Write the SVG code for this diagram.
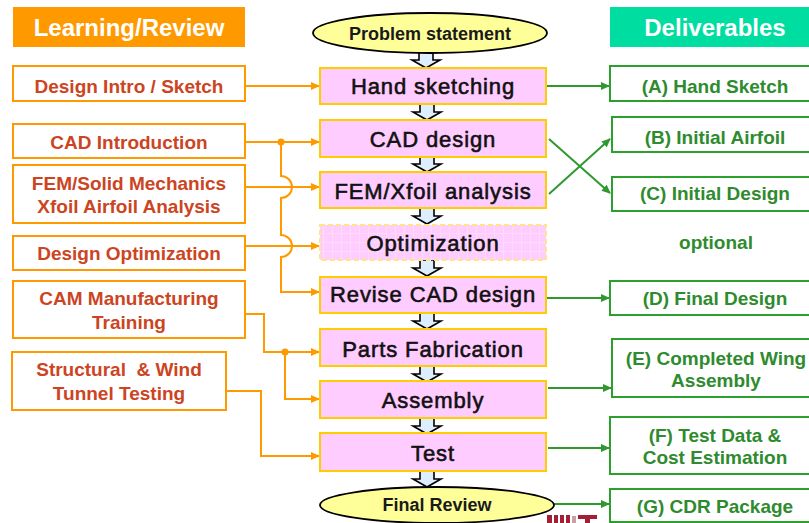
<svg xmlns="http://www.w3.org/2000/svg" width="809" height="523" viewBox="0 0 809 523">
  <defs>
    <marker id="arrOrange" markerUnits="userSpaceOnUse" markerWidth="9" markerHeight="8" refX="8" refY="4" orient="auto">
      <path d="M0,0 L9,4 L0,8 z" fill="#FF9900"/>
    </marker>
    <marker id="arrGreen" markerUnits="userSpaceOnUse" markerWidth="9" markerHeight="8" refX="8" refY="4" orient="auto">
      <path d="M0,0 L9,4 L0,8 z" fill="#2E9A2E"/>
    </marker>
    <pattern id="optGrid" patternUnits="userSpaceOnUse" width="9" height="9">
      <rect width="9" height="9" fill="#FFCCFF"/>
      <path d="M8.5,0 V9 M0,8.5 H9" stroke="#FFDAFF" stroke-width="1"/>
    </pattern>
    <!-- block arrow pointing down, 16 tall, centred on x=0 -->
    <path id="blockArrow" d="M-7,0 H7 V8 H14 L0,16 L-14,8 H-7 Z" fill="#DDEEFF" stroke="#000" stroke-width="1.6" stroke-linejoin="miter"/>
  </defs>
  <style>
    .hdr { font-family: "Liberation Sans", Arial, sans-serif; font-weight: bold; font-size: 24px; fill: #fff; text-anchor: middle; }
    .lbox { fill: #fff; stroke: #FF9900; stroke-width: 2; }
    .ltxt { font-family: "Liberation Sans", Arial, sans-serif; font-weight: bold; font-size: 19px; fill: #CC4422; text-anchor: middle; }
    .cbox { fill: #FFCCFF; stroke: #FFCC00; stroke-width: 2; }
    .ctxt { font-family: "Liberation Sans", Arial, sans-serif; font-size: 22px; letter-spacing: 0.9px; fill: #111; text-anchor: middle; stroke: #111; stroke-width: 0.6px; }
    .oval { fill: #FFFF99; stroke: #000; stroke-width: 1.8; }
    .otxt { font-family: "Liberation Sans", Arial, sans-serif; font-weight: bold; font-size: 18px; fill: #1a1a1a; text-anchor: middle; }
    .rbox { fill: #fff; stroke: #2CA02C; stroke-width: 2; }
    .rtxt { font-family: "Liberation Sans", Arial, sans-serif; font-weight: bold; font-size: 19px; fill: #2E8B2E; text-anchor: middle; }
    .oline { fill: none; stroke: #FF9900; stroke-width: 2; }
    .gline { fill: none; stroke: #2E9A2E; stroke-width: 2; }
  </style>

  <rect width="809" height="523" fill="#fff"/>

  <!-- column headers -->
  <g id="hdr-learning">
    <rect x="13" y="7" width="232" height="40" fill="#FF9900"/>
    <text class="hdr" x="129" y="36">Learning/Review</text>
  </g>
  <g id="hdr-deliverables">
    <rect x="610" y="7" width="210" height="40" fill="#00DDA0"/>
    <text class="hdr" x="715" y="36">Deliverables</text>
  </g>

  <!-- connectors -->
  <g id="connectors">
    <!-- learning inputs (orange) -->
    <path class="oline" d="M245,86 H319" marker-end="url(#arrOrange)"/>
    <path class="oline" d="M245,142 H319" marker-end="url(#arrOrange)"/>
    <path class="oline" d="M245,187 H319" marker-end="url(#arrOrange)"/>
    <path class="oline" d="M245,246 H319" marker-end="url(#arrOrange)" stroke="#FFA540"/>
    <path class="oline" d="M281,142 V176 A11,11 0 0 1 281,198 V235 A11,11 0 0 1 281,257 V292 H319" marker-end="url(#arrOrange)"/>
    <circle cx="281" cy="142" r="3.5" fill="#FF9900"/>
    <path class="oline" d="M245,314 H264 V352 H319" marker-end="url(#arrOrange)" stroke="#FFB060"/>
    <path class="oline" d="M285,352 V399 H319" marker-end="url(#arrOrange)"/>
    <circle cx="285" cy="352" r="3.5" fill="#FF9900"/>
    <path class="oline" d="M226,391 H261 V456 H319" marker-end="url(#arrOrange)"/>

    <!-- deliverable outputs (green) -->
    <path class="gline" d="M546,86 H609" marker-end="url(#arrGreen)"/>
    <path class="gline" d="M549,139 L610,193" marker-end="url(#arrGreen)"/>
    <path class="gline" d="M549,194 L610,139" marker-end="url(#arrGreen)"/>
    <path class="gline" d="M546,298 H609" marker-end="url(#arrGreen)"/>
    <path class="gline" d="M548,388 H611" marker-end="url(#arrGreen)" stroke="#3C8C3C"/>
    <path class="gline" d="M548,448 H609" marker-end="url(#arrGreen)" stroke="#3C8C3C"/>
    <path class="gline" d="M553,504 H609" marker-end="url(#arrGreen)"/>

    <!-- flow block arrows -->
    <use href="#blockArrow" x="426" y="52"/>
    <use href="#blockArrow" x="427" y="104"/>
    <use href="#blockArrow" x="427" y="156"/>
    <use href="#blockArrow" x="427" y="208"/>
    <use href="#blockArrow" x="427" y="260"/>
    <use href="#blockArrow" x="427" y="313"/>
    <use href="#blockArrow" x="427" y="366"/>
    <use href="#blockArrow" x="427" y="418"/>
    <use href="#blockArrow" x="427" y="471"/>
  </g>

  <!-- learning / review column -->
  <g id="l-intro">
    <rect class="lbox" x="13" y="66" width="232" height="35"/>
    <text class="ltxt" x="129" y="93">Design Intro / Sketch</text>
  </g>
  <g id="l-cad">
    <rect class="lbox" x="13" y="124" width="232" height="34"/>
    <text class="ltxt" x="129" y="149">CAD Introduction</text>
  </g>
  <g id="l-fem">
    <rect class="lbox" x="13" y="165" width="232" height="58"/>
    <text class="ltxt" x="129" y="190">FEM/Solid Mechanics</text>
    <text class="ltxt" x="129" y="213">Xfoil Airfoil Analysis</text>
  </g>
  <g id="l-opt">
    <rect class="lbox" x="13" y="236" width="232" height="34"/>
    <text class="ltxt" x="129" y="260">Design Optimization</text>
  </g>
  <g id="l-cam">
    <rect class="lbox" x="13" y="281" width="232" height="57"/>
    <text class="ltxt" x="129" y="305">CAM Manufacturing</text>
    <text class="ltxt" x="129" y="329">Training</text>
  </g>
  <g id="l-test">
    <rect class="lbox" x="12" y="352" width="214" height="58"/>
    <text class="ltxt" x="119" y="376" xml:space="preserve">Structural  &amp; Wind</text>
    <text class="ltxt" x="119" y="400">Tunnel Testing</text>
  </g>

  <!-- process flow column -->
  <g id="p-problem">
    <ellipse class="oval" cx="430" cy="33" rx="117" ry="20"/>
    <text class="otxt" x="430" y="40">Problem statement</text>
  </g>
  <g id="p-sketch">
    <rect class="cbox" x="320" y="68" width="226" height="36"/>
    <text class="ctxt" x="433" y="94">Hand sketching</text>
  </g>
  <g id="p-cad">
    <rect class="cbox" x="320" y="120" width="226" height="37"/>
    <text class="ctxt" x="433" y="147">CAD design</text>
  </g>
  <g id="p-fem">
    <rect class="cbox" x="320" y="172" width="226" height="36"/>
    <text class="ctxt" x="433" y="199">FEM/Xfoil analysis</text>
  </g>
  <g id="p-opt">
    <rect x="320" y="225" width="226" height="35" fill="url(#optGrid)" stroke="#FFE680" stroke-width="2" stroke-dasharray="5 3"/>
    <text class="ctxt" x="433" y="251">Optimization</text>
  </g>
  <g id="p-revise">
    <rect class="cbox" x="320" y="277" width="226" height="36"/>
    <text class="ctxt" x="433" y="302">Revise CAD design</text>
  </g>
  <g id="p-fab">
    <rect class="cbox" x="320" y="329" width="226" height="37"/>
    <text class="ctxt" x="433" y="357">Parts Fabrication</text>
  </g>
  <g id="p-assembly">
    <rect class="cbox" x="320" y="381" width="226" height="37"/>
    <text class="ctxt" x="433" y="408">Assembly</text>
  </g>
  <g id="p-test">
    <rect class="cbox" x="320" y="433" width="226" height="38"/>
    <text class="ctxt" x="433" y="461">Test</text>
  </g>
  <g id="p-final">
    <ellipse class="oval" cx="437" cy="505" rx="117" ry="18"/>
    <text class="otxt" x="437" y="511">Final Review</text>
  </g>

  <!-- deliverables column -->
  <g id="d-a">
    <rect class="rbox" x="610" y="66" width="220" height="35"/>
    <text class="rtxt" x="715" y="93">(A) Hand Sketch</text>
  </g>
  <g id="d-b">
    <rect class="rbox" x="612" y="117" width="220" height="35"/>
    <text class="rtxt" x="715" y="144">(B) Initial Airfoil</text>
  </g>
  <g id="d-c">
    <rect class="rbox" x="612" y="177" width="220" height="34"/>
    <text class="rtxt" x="715" y="200">(C) Initial Design</text>
  </g>
  <g id="d-optional">
    <text class="rtxt" x="716" y="249">optional</text>
  </g>
  <g id="d-d">
    <rect class="rbox" x="610" y="281" width="220" height="34"/>
    <text class="rtxt" x="715" y="305">(D) Final Design</text>
  </g>
  <g id="d-e">
    <rect class="rbox" x="612" y="339" width="220" height="58"/>
    <text class="rtxt" x="716" y="365">(E) Completed Wing</text>
    <text class="rtxt" x="716" y="387">Assembly</text>
  </g>
  <g id="d-f">
    <rect class="rbox" x="610" y="417" width="220" height="57"/>
    <text class="rtxt" x="715" y="442">(F) Test Data &amp;</text>
    <text class="rtxt" x="715" y="464">Cost Estimation</text>
  </g>
  <g id="d-g">
    <rect class="rbox" x="610" y="489" width="220" height="33"/>
    <text class="rtxt" x="715" y="513">(G) CDR Package</text>
  </g>

  <!-- institution mark, bottom edge -->
  <g id="mark" fill="#A31F34">
    <rect x="547" y="515" width="5" height="8"/>
    <rect x="554" y="515" width="4" height="8"/>
    <rect x="560" y="515" width="4" height="8"/>
    <rect x="566" y="515" width="4" height="8"/>
    <rect x="572" y="516" width="4" height="7" fill="#C8A0A8"/>
    <rect x="578" y="515" width="19" height="4"/>
    <rect x="585" y="519" width="5" height="4"/>
  </g>
</svg>
